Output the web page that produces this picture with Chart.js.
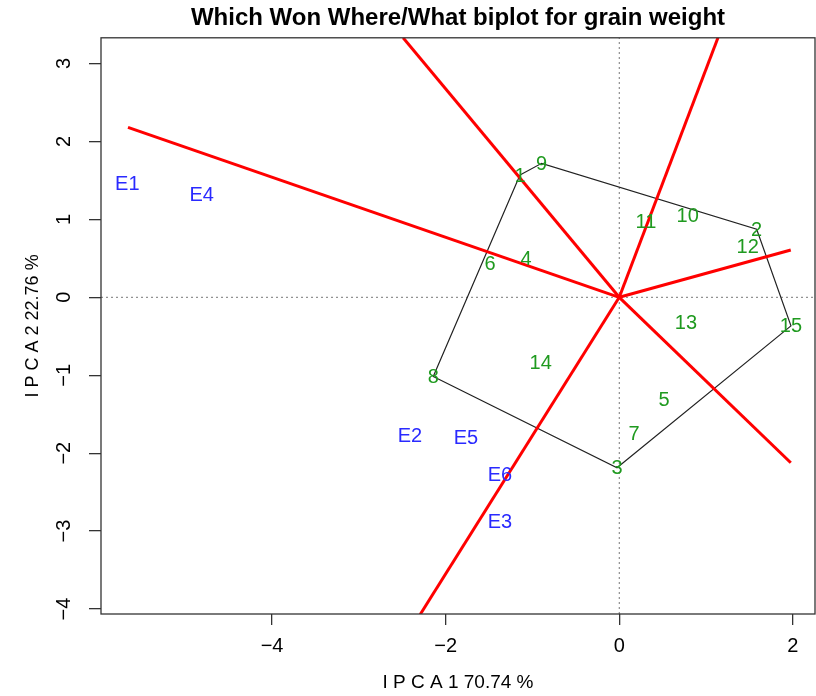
<!DOCTYPE html>
<html>
<head>
<meta charset="utf-8">
<script src="https://cdn.jsdelivr.net/npm/chart.js@4.4.1/dist/chart.umd.min.js"></script>
<style>
html,body{margin:0;padding:0;background:#fff;}
#wrap{width:816px;height:696px;position:relative;}
</style>
</head>
<body>
<div id="wrap"><canvas id="c" width="816" height="696"></canvas></div>
<script>
// ---- data ----
const genotypeLabels = ['1','2','3','4','5','6','7','8','9','10','11','12','13','14','15'];
const genotypeX = [-1.144, 1.583, -0.026, -1.075, 0.515, -1.490, 0.169, -2.143, -0.894, 0.788, 0.308, 1.479, 0.768, -0.906, 1.978];
const genotypeY = [1.569, 0.873, -2.187, 0.492, -1.315, 0.428, -1.742, -1.017, 1.719, 1.056, 0.971, 0.650, -0.328, -0.837, -0.367];

const envLabels = ['E1','E2','E3','E4','E5','E6'];
const envX = [-5.668, -2.411, -1.374, -4.811, -1.766, -1.374];
const envY = [1.463, -1.777, -2.876, 1.322, -1.799, -2.268];

// convex hull vertices (genotype labels, in order)
const hullOrder = ['1','9','2','15','3','8','1'];

// rays from origin (end points)
const rayEndX = [-5.66, -2.49, 1.137, 1.976, 1.976, -2.294];
const rayEndY = [2.18, 3.33, 3.33, 0.607, -2.123, -4.07];

const xTicks = [-4, -2, 0, 2];
const yTicks = [-4, -3, -2, -1, 0, 1, 2, 3];
const xRange = [-5.971, 2.255];
const yRange = [-4.064, 3.33];

const titleText = 'Which Won Where/What biplot for grain weight';
const xTitle = 'I P C A 1 70.74 %';
const yTitle = 'I P C A 2 22.76 %';

// ---- build datasets ----
const FONT = '"Liberation Sans", Arial, Helvetica, sans-serif';
const hullData = hullOrder.map(l => { const i = genotypeLabels.indexOf(l); return {x: genotypeX[i], y: genotypeY[i]}; });
const datasets = [];
datasets.push({type:'line', label:'vzero', data:[{x:0,y:yRange[0]},{x:0,y:yRange[1]}], borderColor:'#777', borderWidth:1, borderDash:[2,3], pointRadius:0, order:5});
datasets.push({type:'line', label:'hzero', data:[{x:xRange[0],y:0},{x:xRange[1],y:0}], borderColor:'#777', borderWidth:1, borderDash:[2,3], pointRadius:0, order:5});
datasets.push({type:'line', label:'hull', data:hullData, borderColor:'#222', borderWidth:1.2, pointRadius:0, tension:0, order:4});
rayEndX.forEach((ex, i) => {
  datasets.push({type:'line', label:'ray'+i, data:[{x:0,y:0},{x:ex,y:rayEndY[i]}], borderColor:'#ff0000', borderWidth:3, pointRadius:0, order:3});
});
datasets.push({type:'scatter', label:'genotypes', data:genotypeX.map((x,i)=>({x:x,y:genotypeY[i]})), pointRadius:0, textLabels:genotypeLabels, textColor:'#1f9a1f', order:1});
datasets.push({type:'scatter', label:'environments', data:envX.map((x,i)=>({x:x,y:envY[i]})), pointRadius:0, textLabels:envLabels, textColor:'#2a2aff', order:1});

const textPlugin = {
  id:'textLabels',
  afterDatasetsDraw(chart){
    const ctx = chart.ctx;
    const xs = chart.scales.x, ys = chart.scales.y;
    chart.data.datasets.forEach(ds => {
      if (!ds.textLabels) return;
      ctx.save();
      ctx.font = '20px ' + FONT;
      ctx.fillStyle = ds.textColor;
      ctx.textAlign = 'center';
      ctx.textBaseline = 'middle';
      ds.data.forEach((p, i) => {
        ctx.fillText(ds.textLabels[i], xs.getPixelForValue(p.x), ys.getPixelForValue(p.y) + 1);
      });
      ctx.restore();
    });
  }
};
const boxPlugin = {
  id:'box',
  afterDraw(chart){
    const a = chart.chartArea, ctx = chart.ctx;
    ctx.save();
    ctx.strokeStyle = '#333';
    ctx.lineWidth = 1.3;
    ctx.strokeRect(a.left, a.top, a.right - a.left, a.bottom - a.top);
    ctx.restore();
  }
};

const fmt = v => (v < 0 ? '\u2212' + Math.abs(v) : String(v));

new Chart(document.getElementById('c'), {
  data:{datasets:datasets},
  options:{
    responsive:false,
    animation:false,
    layout:{padding:{left:0,right:1,top:0,bottom:0}},
    plugins:{
      legend:{display:false},
      tooltip:{enabled:false},
      title:{display:true, text:titleText, fullSize:false, color:'#000',
        font:{family:FONT, size:24, weight:'bold'},
        padding:{top:4,bottom:5}}
    },
    scales:{
      x:{type:'linear', position:'bottom', min:xRange[0], max:xRange[1],
        afterBuildTicks: s => { s.ticks = xTicks.map(v => ({value:v})); },
        afterFit: s => { s.height = 82; },
        border:{display:false},
        grid:{drawOnChartArea:false, drawTicks:true, tickLength:11, color:'#333', lineWidth:1.3},
        ticks:{callback:fmt, color:'#000', padding:9, maxRotation:0, autoSkip:false,
          font:{family:FONT, size:20}},
        title:{display:true, text:xTitle, color:'#000', padding:{top:4,bottom:2},
          font:{family:FONT, size:19}}
      },
      y:{type:'linear', position:'left', min:yRange[0], max:yRange[1],
        afterBuildTicks: s => { s.ticks = yTicks.map(v => ({value:v})); },
        afterFit: s => { s.width = 101; },
        border:{display:false},
        grid:{drawOnChartArea:false, drawTicks:true, tickLength:12, color:'#333', lineWidth:1.3},
        ticks:{callback:fmt, color:'#000', padding:13, minRotation:90, maxRotation:90, crossAlign:'center', autoSkip:false,
          font:{family:FONT, size:20}},
        title:{display:true, text:yTitle, color:'#000', padding:{top:22,bottom:0},
          font:{family:FONT, size:18}}
      }
    }
  },
  plugins:[textPlugin, boxPlugin]
});
</script>
</body>
</html>
